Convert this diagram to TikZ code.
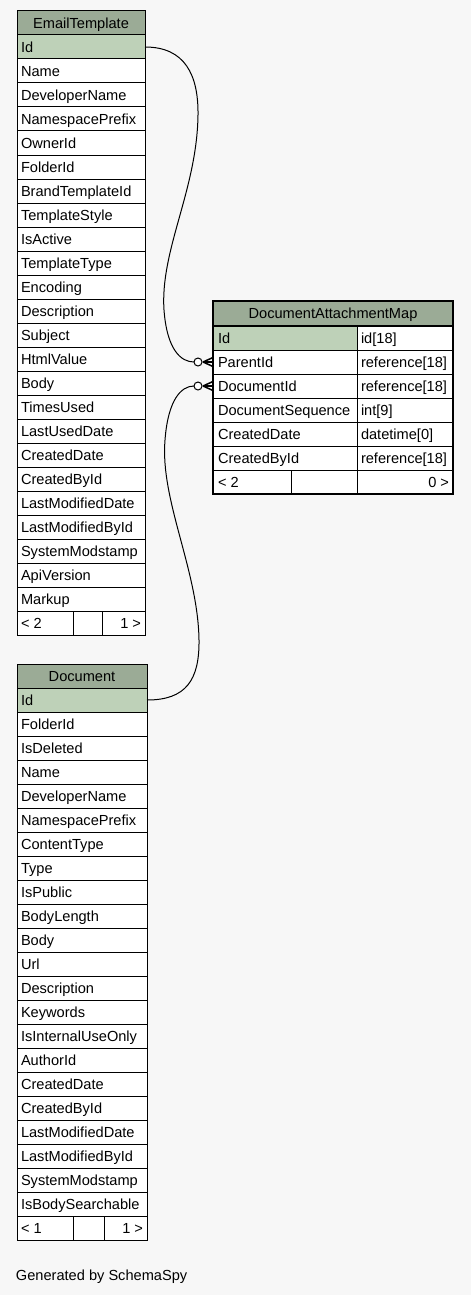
\documentclass[tikz,border=0pt]{standalone}
\usepackage{fontspec}
\setmainfont{Liberation Sans}
\usetikzlibrary{calc}
\definecolor{bg}{HTML}{F7F7F7}
\definecolor{headfill}{HTML}{9BAB96}
\definecolor{pkfill}{HTML}{BED1B8}
\begin{document}
\begin{tikzpicture}[x=1pt,y=-1pt,
  every node/.style={font=\fontsize{14.6}{17}\selectfont, inner sep=0pt, outer sep=0pt},
  cellbase/.style={draw=black, line width=1pt, anchor=north west, minimum height=24pt,
    text height=10.6pt, text depth=0pt},
  cell/.style={cellbase, fill=white, align=left, inner xsep=4pt},
  headcell/.style={cellbase, fill=headfill, align=center},
  pkcell/.style={cell, fill=pkfill},
  footcell/.style={cellbase, fill=white, inner xsep=4pt},
  rel/.style={draw=black, line width=1pt},
  optcircle/.style={circle, draw=black, line width=1pt, fill=white, minimum size=8pt},
  crowfoot/.style={draw=black, line width=1.5pt}
]
\useasboundingbox (0,0) rectangle (471,1295);
\fill[bg] (0,0) rectangle (471,1295);

% ---------------- EmailTemplate ----------------
\node[headcell, minimum width=128pt, text width=120pt] (et-h) at (17,11) {EmailTemplate};
\node[pkcell, minimum width=128pt, text width=120pt] (et-1) at (17,35) {Id};
\foreach \n [count=\i from 2] in {Name,DeveloperName,NamespacePrefix,OwnerId,FolderId,
  BrandTemplateId,TemplateStyle,IsActive,TemplateType,Encoding,Description,Subject,
  HtmlValue,Body,TimesUsed,LastUsedDate,CreatedDate,CreatedById,LastModifiedDate,
  LastModifiedById,SystemModstamp,ApiVersion,Markup}
  \node[cell, minimum width=128pt, text width=120pt] (et-\i) at (17,{35+24*(\i-1)}) {\n};
\node[footcell, minimum width=56pt, text width=48pt, align=left] (et-fl) at (17,611) {<\;2};
\node[footcell, minimum width=29pt] (et-fm) at (73,611) {};
\node[footcell, minimum width=43pt, text width=35pt, align=right] (et-fr) at (102,611) {1\;>};

% ---------------- Document ----------------
\node[headcell, minimum width=130pt, text width=122pt] (doc-h) at (17,664) {Document};
\node[pkcell, minimum width=130pt, text width=122pt] (doc-1) at (17,688) {Id};
\foreach \n [count=\i from 2] in {FolderId,IsDeleted,Name,DeveloperName,NamespacePrefix,
  ContentType,Type,IsPublic,BodyLength,Body,Url,Description,Keywords,IsInternalUseOnly,
  AuthorId,CreatedDate,CreatedById,LastModifiedDate,LastModifiedById,SystemModstamp,
  IsBodySearchable}
  \node[cell, minimum width=130pt, text width=122pt] (doc-\i) at (17,{688+24*(\i-1)}) {\n};
\node[footcell, minimum width=56pt, text width=48pt, align=left] (doc-fl) at (17,1216) {<\;1};
\node[footcell, minimum width=31pt] (doc-fm) at (73,1216) {};
\node[footcell, minimum width=43pt, text width=35pt, align=right] (doc-fr) at (104,1216) {1\;>};

% ---------------- DocumentAttachmentMap ----------------
\node[headcell, minimum width=240pt, text width=232pt] (dam-h) at (213,301) {DocumentAttachmentMap};
\node[pkcell, minimum width=144pt, text width=134pt, inner xsep=5pt] (dam-1) at (213,326) {Id};
\node[cell, minimum width=96pt, text width=88pt] (dam-1t) at (357,326) {id[18]};
\foreach \n/\t [count=\i from 2] in {ParentId/reference[18],DocumentId/reference[18],
  DocumentSequence/int[9],CreatedDate/datetime[0],CreatedById/reference[18]} {
  \node[cell, minimum width=144pt, text width=134pt, inner xsep=5pt] (dam-\i) at (213,{326+24*(\i-1)}) {\n};
  \node[cell, minimum width=96pt, text width=88pt] (dam-\i t) at (357,{326+24*(\i-1)}) {\t};
}
\node[footcell, minimum width=78pt, text width=68pt, align=left, inner xsep=5pt] (dam-fl) at (213,470) {<\;2};
\node[footcell, minimum width=66pt] (dam-fm) at (291,470) {};
\node[footcell, minimum width=96pt, text width=88pt, align=right] (dam-fr) at (357,470) {0\;>};
\draw[line width=2.2pt] (dam-h.north west) rectangle (dam-fr.south east);

% ---------------- relationships ----------------
\node[optcircle] (c1) at (198,362) {};
\node[optcircle] (c2) at (198,386) {};
\coordinate (f1) at (203,362);
\coordinate (f2) at (203,386);

\draw[rel] (et-1.east) .. controls (185,47) and (198.5,75) .. (198,115)
  .. controls (197,190) and (160,250) .. (164,310)
  .. controls (167,350) and (181,362) .. (c1.west);
\draw[rel] (doc-1.east) .. controls (186,700) and (199.5,680) .. (199,640)
  .. controls (198,570) and (160,500) .. (165,440)
  .. controls (168,400) and (181,386) .. (c2.west);

\foreach \f/\r in {f1/dam-2, f2/dam-3} {
  \draw[crowfoot] (\f) -- ($(\r.west)+(0,-4.5)$);
  \draw[crowfoot] (\f) -- (\r.west);
  \draw[crowfoot] (\f) -- ($(\r.west)+(0,4.5)$);
}

% ---------------- footer ----------------
\node[anchor=base west] (gen) at (16,1280) {Generated by SchemaSpy};
\end{tikzpicture}
\end{document}
